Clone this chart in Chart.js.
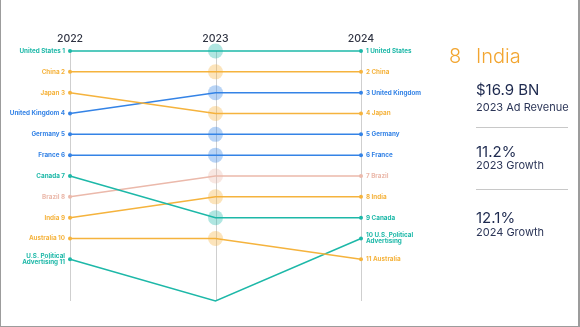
<!DOCTYPE html>
<html>
<head>
<meta charset="utf-8">
<script src="https://cdn.jsdelivr.net/npm/chart.js@4.4.0/dist/chart.umd.min.js"></script>
<style>
  html,body{margin:0;padding:0;background:#fff;}
  #wrap{position:relative;width:580px;height:327px;overflow:hidden;background:#fff;}
  #c{position:absolute;left:0;top:0;}
  .frame{position:absolute;left:0;top:0;width:580px;height:327px;box-sizing:border-box;border-left:1px solid #9c9c9c;border-right:2px solid #9c9c9c;border-bottom:1px solid #9c9c9c;pointer-events:none;}
  .t{position:absolute;white-space:nowrap;font-family:Inter,"Open Sans",sans-serif;color:#1e2a4f;}
  .hr{position:absolute;height:1px;background:#c8c8c8;}
</style>
</head>
<body>
<div id="wrap">
  <canvas id="c" width="580" height="327"></canvas>
  <div class="t" style="left:449px;top:43px;font-size:20px;line-height:26px;font-weight:300;color:#f2a530;">8</div>
  <div class="t" style="left:476px;top:43px;font-size:20px;line-height:26px;font-weight:300;color:#f2a530;">India</div>
  <div class="t" style="left:476px;top:80px;font-size:15px;line-height:20px;font-weight:400;">$16.9 BN</div>
  <div class="t" style="left:476px;top:100px;font-size:11px;line-height:14px;font-weight:400;color:#2c3658;">2023 Ad Revenue</div>
  <div class="hr" style="left:476px;top:127px;width:92px;"></div>
  <div class="t" style="left:476px;top:142px;font-size:15px;line-height:20px;font-weight:400;">11.2%</div>
  <div class="t" style="left:476px;top:158px;font-size:11px;line-height:14px;font-weight:400;color:#2c3658;">2023 Growth</div>
  <div class="hr" style="left:476px;top:189px;width:92px;"></div>
  <div class="t" style="left:476px;top:208px;font-size:15px;line-height:20px;font-weight:400;">12.1%</div>
  <div class="t" style="left:476px;top:225px;font-size:11px;line-height:14px;font-weight:400;color:#2c3658;">2024 Growth</div>
  <div class="frame"></div>
</div>
<script>
// ---- data ----
const years = [2022, 2023, 2024];
const yearLabels = ['2022', '2023', '2024'];
const countries = ['United States', 'China', 'Japan', 'United Kingdom', 'Germany', 'France', 'Canada', 'Brazil', 'India', 'Australia', 'U.S. Political Advertising'];
const rank2022 = [1, 2, 3, 4, 5, 6, 7, 8, 9, 10, 11];
const rank2023 = [1, 2, 4, 3, 5, 6, 9, 7, 8, 10, 13];
const rank2024 = [1, 2, 4, 3, 5, 6, 9, 7, 8, 11, 10];
const shownIn2023 = [true, true, true, true, true, true, true, true, true, true, false];
const seriesColors = ['#1db8a8', '#f5b33d', '#f5b33d', '#3483e6', '#3483e6', '#3483e6', '#1db8a8', '#ebb9ab', '#f5b33d', '#f5b33d', '#1db8a8'];

function hexA(hex, a) {
  const n = parseInt(hex.slice(1), 16);
  return `rgba(${(n >> 16) & 255},${(n >> 8) & 255},${n & 255},${a})`;
}

const datasets = countries.map((name, i) => ({
  label: name,
  data: [
    { x: years[0], y: rank2022[i] },
    { x: years[1], y: rank2023[i] },
    { x: years[2], y: rank2024[i] }
  ],
  borderColor: seriesColors[i],
  borderWidth: 1.5,
  tension: 0,
  clip: false,
  pointRadius: ctx => ctx.dataIndex === 1 ? (shownIn2023[i] ? 7.5 : 0) : 2,
  pointBackgroundColor: ctx => ctx.dataIndex === 1 ? hexA(seriesColors[i], 0.35) : seriesColors[i],
  pointBorderWidth: 0,
  pointHoverRadius: 0
}));

function splitName(name) {
  return name === 'U.S. Political Advertising' ? ['U.S. Political', 'Advertising'] : [name];
}

const decorPlugin = {
  id: 'decor',
  beforeDatasetsDraw(chart) {
    const { ctx, scales: { x, y }, chartArea } = chart;
    ctx.save();
    ctx.strokeStyle = '#cfcfcf';
    ctx.lineWidth = 1;
    years.forEach(v => {
      const px = Math.round(x.getPixelForValue(v)) + 0.5;
      ctx.beginPath();
      ctx.moveTo(px, chartArea.top);
      ctx.lineTo(px, chartArea.bottom);
      ctx.stroke();
    });
    ctx.fillStyle = '#2f3342';
    ctx.font = '500 10.5px Inter, "Open Sans", sans-serif';
    ctx.textAlign = 'center';
    ctx.textBaseline = 'alphabetic';
    years.forEach((v, k) => {
      ctx.fillText(yearLabels[k], x.getPixelForValue(v), chartArea.top - 9);
    });
    ctx.restore();
  },
  afterDatasetsDraw(chart) {
    const { ctx, scales: { x, y } } = chart;
    ctx.save();
    ctx.font = '700 6.3px Inter, "Open Sans", sans-serif';
    ctx.textBaseline = 'middle';
    const lh = 6;
    countries.forEach((name, i) => {
      ctx.fillStyle = seriesColors[i];
      const parts = splitName(name);
      // left labels
      const lx = x.getPixelForValue(years[0]) - 5;
      const ly = y.getPixelForValue(rank2022[i]);
      ctx.textAlign = 'right';
      const leftLines = parts.map((p, k) => k === parts.length - 1 ? p + ' ' + rank2022[i] : p);
      leftLines.forEach((t, k) => ctx.fillText(t, lx, ly + (k - (leftLines.length - 1) / 2) * lh));
      // right labels
      const rx = x.getPixelForValue(years[2]) + 5;
      const ry = y.getPixelForValue(rank2024[i]);
      ctx.textAlign = 'left';
      const rightLines = parts.map((p, k) => k === 0 ? rank2024[i] + ' ' + p : p);
      rightLines.forEach((t, k) => ctx.fillText(t, rx, ry + (k - (rightLines.length - 1) / 2) * lh));
    });
    ctx.restore();
  }
};

new Chart(document.getElementById('c'), {
  type: 'line',
  data: { datasets },
  options: {
    responsive: false,
    animation: false,
    events: [],
    layout: { padding: { left: 70, right: 219, top: 51, bottom: 26 } },
    plugins: { legend: { display: false }, tooltip: { enabled: false } },
    scales: {
      x: { type: 'linear', min: 2022, max: 2024, display: false },
      y: { type: 'linear', min: 1, max: 13, reverse: true, display: false }
    }
  },
  plugins: [decorPlugin]
});
</script>
</body>
</html>
